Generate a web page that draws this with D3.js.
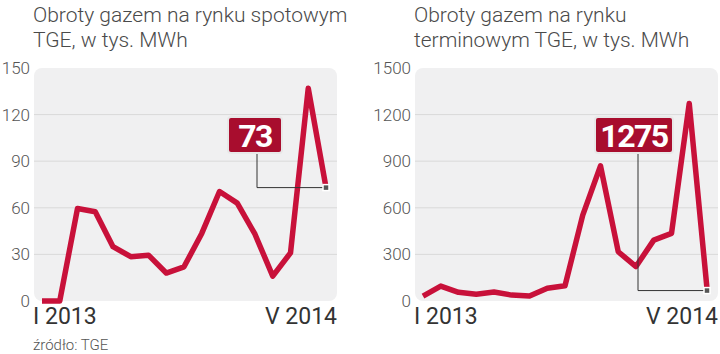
<!DOCTYPE html>
<html>
<head>
<meta charset="utf-8">
<script src="https://cdn.jsdelivr.net/npm/d3@7"></script>
<style>
  body { margin: 0; background: #fff; }
  svg { display: block; font-family: Roboto, "Liberation Sans", sans-serif; }
</style>
</head>
<body>
<svg id="chart" width="720" height="354"></svg>
<script>

// months Jan 2013 .. May 2014
const months = ["I 2013","II","III","IV","V","VI","VII","VIII","IX","X","XI","XII",
                "I 2014","II '14","III '14","IV '14","V 2014"]

const spotValues = [0, 0, 59.5, 57.5, 35, 28.5, 29.5, 18, 22, 43.5, 70.5, 63, 43, 16, 31, 137, 73]
const termValues = [32, 96, 56, 44, 58, 38, 32, 82, 98, 553, 870, 317, 222, 392, 435, 1272, 80]

const spotTicks = [0, 30, 60, 90, 120, 150]
const termTicks = [0, 300, 600, 900, 1200, 1500]

const panels = [
  { title: ["Obroty gazem na rynku spotowym", "TGE, w tys. MWh"], values: spotValues,
    ticks: spotTicks, max: 150, label: "73", x0: 34, x1: 337, lx0: 42, lx1: 326,
    boxX: 228, boxW: 54, elbowX: 257 },
  { title: ["Obroty gazem na rynku", "terminowym TGE, w tys. MWh"], values: termValues,
    ticks: termTicks, max: 1500, label: "1275", x0: 415, x1: 718, lx0: 423, lx1: 707,
    boxX: 595, boxW: 78, elbowX: 638 }
]

const svg = d3.select("#chart")

const plotTop = 68, plotBottom = 301
const red = "#c8113a"

panels.forEach(p => {
  const g = svg.append("g")

  const x = d3.scalePoint()
    .domain(months)
    .range([p.lx0, p.lx1])

  const y = d3.scaleLinear()
    .domain([0, p.max])
    .range([plotBottom, plotTop])

  // title
  g.selectAll(".title")
    .data(p.title)
    .join("text")
    .attr("x", p.x0 - 1)
    .attr("y", (d, i) => 22 + i * 25)
    .attr("font-size", 21)
    .attr("font-weight", 300)
    .attr("fill", "#4a4a4a")
    .text(d => d)

  // background
  g.append("rect")
    .attr("x", p.x0)
    .attr("y", plotTop)
    .attr("width", p.x1 - p.x0)
    .attr("height", plotBottom - plotTop)
    .attr("rx", 8)
    .attr("fill", "#f0f0f1")

  // gridlines
  g.selectAll(".grid")
    .data(p.ticks.slice(1, -1))
    .join("line")
    .attr("x1", p.x0)
    .attr("x2", p.x1)
    .attr("y1", d => y(d))
    .attr("y2", d => y(d))
    .attr("stroke", "#d9d9d9")
    .attr("stroke-width", 1)

  // y labels
  g.selectAll(".ylab")
    .data(p.ticks)
    .join("text")
    .attr("x", p.x0 - 4)
    .attr("y", d => y(d) + 6)
    .attr("text-anchor", "end")
    .attr("font-size", 17)
    .attr("font-weight", 300)
    .attr("fill", "#555")
    .text(d => d)

  // x labels
  g.append("text")
    .attr("x", p.x0 - 1)
    .attr("y", 324)
    .attr("font-size", 23)
    .attr("fill", "#333")
    .text(months[0])
  g.append("text")
    .attr("x", p.x1)
    .attr("y", 324)
    .attr("text-anchor", "end")
    .attr("font-size", 23)
    .attr("fill", "#333")
    .text(months[months.length - 1])

  // line
  const line = d3.line()
    .x((d, i) => x(months[i]))
    .y(d => y(d))

  g.append("path")
    .datum(p.values)
    .attr("d", line)
    .attr("fill", "none")
    .attr("stroke", red)
    .attr("stroke-width", 5.5)
    .attr("stroke-linejoin", "round")

  // annotation
  const last = p.values[p.values.length - 1]
  const lx = x(months[months.length - 1])
  const ly = p.label === "73" ? y(last) : y(last) + 2
  g.append("path")
    .attr("d", `M${p.elbowX},153 V${ly} H${lx}`)
    .attr("fill", "none")
    .attr("stroke", "#333")
    .attr("stroke-width", 1)
  g.append("rect")
    .attr("x", lx - 3)
    .attr("y", ly - 3)
    .attr("width", 6)
    .attr("height", 6)
    .attr("fill", "#555")
    .attr("stroke", "#fff")
    .attr("stroke-width", 1.5)

  g.append("rect")
    .attr("x", p.boxX)
    .attr("y", 117)
    .attr("width", p.boxW)
    .attr("height", 36)
    .attr("rx", 3)
    .attr("fill", "#a80d2e")
    .attr("stroke", "#e8e8e8")
    .attr("stroke-width", 2)
  g.append("text")
    .attr("x", p.boxX + p.boxW / 2)
    .attr("y", 147)
    .attr("text-anchor", "middle")
    .attr("font-size", 32)
    .attr("font-weight", 700)
    .attr("letter-spacing", -1.5)
    .attr("fill", "#fff")
    .text(p.label)
})

svg.append("text")
  .attr("x", 33)
  .attr("y", 350)
  .attr("font-size", 15)
  .attr("font-weight", 300)
  .attr("fill", "#555")
  .text("źródło: TGE")

</script>
</body>
</html>
